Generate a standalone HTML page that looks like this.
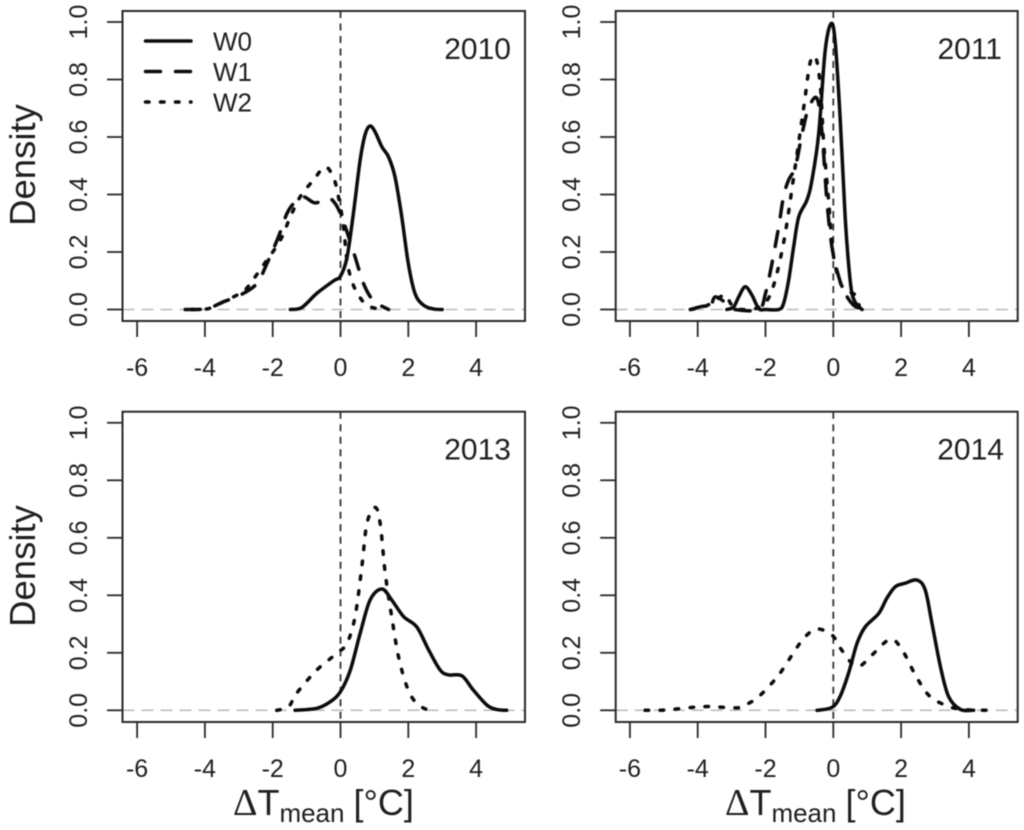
<!DOCTYPE html>
<html lang="en">
<head>
<meta charset="utf-8">
<title>Density of temperature change by year</title>
<style>
html,body{margin:0;padding:0;background:#fff;width:1024px;height:830px;overflow:hidden}
svg{display:block;filter:blur(0.45px)}
text{font-family:"Liberation Sans",sans-serif;fill:#1f1f1f}
</style>
</head>
<body>
<svg id="chart" xmlns="http://www.w3.org/2000/svg" width="1024" height="830" viewBox="0 0 1024 830"></svg>
<script>
const xTicks = [-6, -4, -2, 0, 2, 4];
const xTickLabels = ['-6', '-4', '-2', '0', '2', '4'];
const yTicks = [0, 0.2, 0.4, 0.6, 0.8, 1.0];
const yTickLabels = ['0.0', '0.2', '0.4', '0.6', '0.8', '1.0'];
const legendLabels = ['W0', 'W1', 'W2'];

const w0x2010 = [-1.48,-1.14,-0.7,-0.2,0,0.19,0.38,0.58,0.73,0.87,1.02,1.22,1.42,1.61,1.81,2.0,2.2,2.45,2.74,3.0];
const w0y2010 = [0,0.007,0.056,0.10,0.116,0.18,0.334,0.52,0.61,0.638,0.618,0.566,0.53,0.46,0.32,0.16,0.055,0.015,0.002,0];
const w1x2010 = [-4.58,-3.94,-3.45,-2.96,-2.47,-2.17,-1.83,-1.58,-1.34,-1.09,-0.75,-0.35,-0.16,0,0.09,0.24,0.43,0.68,0.92,1.17,1.42];
const w1y2010 = [0,0.003,0.027,0.05,0.09,0.16,0.253,0.334,0.374,0.392,0.371,0.386,0.369,0.334,0.305,0.253,0.183,0.09,0.038,0.015,0];
const w2x2010 = [-4.4,-3.9,-3.4,-2.9,-2.76,-2.57,-2.17,-1.78,-1.48,-1.19,-0.8,-0.45,-0.2,-0.06,0.09,0.19,0.33,0.53,0.78,1.17];
const w2y2010 = [0,0.003,0.03,0.06,0.075,0.105,0.172,0.24,0.322,0.392,0.45,0.496,0.456,0.392,0.288,0.172,0.10,0.05,0.015,0];

const w0x2011 = [-3.14,-2.94,-2.79,-2.6,-2.4,-2.2,-2,-1.61,-1.47,-1.32,-1.17,-1.02,-0.78,-0.63,-0.43,-0.24,-0.06,0.06,0.2,0.35,0.45,0.55,0.7,0.85];
const w0y2011 = [0,0.009,0.044,0.079,0.05,0.003,0,0,0.02,0.10,0.218,0.322,0.38,0.45,0.612,0.90,0.995,0.925,0.67,0.322,0.16,0.056,0.015,0];
const w1x2011 = [-4.22,-3.78,-3.63,-3.48,-3.09,-2.9,-2.2,-2,-1.81,-1.61,-1.47,-1.32,-1.12,-0.92,-0.73,-0.48,-0.33,-0.19,-0.04,0.16,0.35,0.6,0.85];
const w1y2011 = [0,0.012,0,0.044,0.015,0,0,0.056,0.16,0.288,0.392,0.45,0.496,0.612,0.70,0.734,0.612,0.38,0.218,0.114,0.056,0.015,0];
const w2x2011 = [-4.2,-3.8,-3.5,-3.19,-2.99,-2.7,-2.15,-1.81,-1.47,-1.17,-0.87,-0.68,-0.51,-0.38,-0.29,-0.14,0.01,0.26,0.65,0.8,1];
const w2y2011 = [0,0.01,0.03,0.05,0.015,0,0.01,0.067,0.23,0.46,0.705,0.86,0.873,0.775,0.59,0.38,0.183,0.08,0.05,0.003,0];

const w0x2013 = [-1.34,-0.7,-0.3,0,0.29,0.58,0.875,1.22,1.51,1.86,2.25,2.6,2.94,3.19,3.58,3.92,4.32,4.6,4.9];
const w0y2013 = [0,0.007,0.03,0.065,0.14,0.268,0.384,0.422,0.384,0.326,0.29,0.21,0.14,0.123,0.12,0.07,0.018,0.003,0];
const w2x2013 = [-1.88,-1.53,-1.29,-0.7,-0.11,0.19,0.43,0.63,0.78,1.02,1.17,1.32,1.51,1.71,1.96,2.2,2.5,2.79];
const w2y2013 = [0,0.013,0.06,0.14,0.198,0.233,0.326,0.5,0.65,0.706,0.65,0.476,0.326,0.187,0.082,0.03,0.005,0];

const w0x2014 = [-0.48,-0.04,0.2,0.45,0.7,0.94,1.34,1.58,1.83,2.12,2.47,2.71,2.91,3.16,3.4,3.75,4.14];
const w0y2014 = [0,0.01,0.048,0.129,0.233,0.29,0.337,0.39,0.43,0.442,0.453,0.419,0.303,0.152,0.048,0.003,0];
const w2x2014 = [-5.55,-4.96,-4.17,-3.68,-2.79,-2.5,-2.15,-1.61,-1.12,-0.83,-0.48,-0.04,0.21,0.55,0.8,1.14,1.68,2.03,2.42,2.81,3.3,3.8,4.63];
const w2y2014 = [0,0.001,0.01,0.013,0.009,0.024,0.053,0.123,0.21,0.256,0.283,0.262,0.216,0.163,0.155,0.192,0.247,0.21,0.123,0.053,0.018,0.003,0];

const NS = 'http://www.w3.org/2000/svg';
const root = document.getElementById('chart');
const pxPerX = 33.9;
const pxPerY = 287.5;
const dashStyles = { w0: 'none', w1: '15 15', w2: '3.5 11.5' };

function svgEl(tag, parent, attrs) {
  const node = document.createElementNS(NS, tag);
  for (const k in attrs) node.setAttribute(k, attrs[k]);
  parent.appendChild(node);
  return node;
}

function smoothPath(xs, ys, sx, sy) {
  const p = xs.map((v, i) => [sx(v), sy(ys[i])]);
  let d = 'M' + p[0][0].toFixed(2) + ' ' + p[0][1].toFixed(2);
  for (let i = 0; i < p.length - 1; i++) {
    const a = p[Math.max(i - 1, 0)], b = p[i], c = p[i + 1], e = p[Math.min(i + 2, p.length - 1)];
    const c1x = b[0] + (c[0] - a[0]) / 6, c1y = b[1] + (c[1] - a[1]) / 6;
    const c2x = c[0] - (e[0] - b[0]) / 6, c2y = c[1] - (e[1] - b[1]) / 6;
    d += 'C' + c1x.toFixed(2) + ' ' + c1y.toFixed(2) + ' ' + c2x.toFixed(2) + ' ' + c2y.toFixed(2) + ' ' + c[0].toFixed(2) + ' ' + c[1].toFixed(2);
  }
  return d;
}

function drawPanel(cfg) {
  const sx = v => cfg.x0 + v * pxPerX;
  const sy = v => cfg.y0 - v * pxPerY;

  const g = svgEl('g', root, {});
  
  

  const zero = svgEl('line', g, { x1: cfg.left, x2: cfg.right, y1: sy(0), y2: sy(0), stroke: '#b9b9b9', 'stroke-width': 1.5, 'stroke-dasharray': '12 7' });
  
  

  const vert = svgEl('line', g, { x1: sx(0), x2: sx(0), y1: cfg.top, y2: cfg.bottom, stroke: '#333', 'stroke-width': 1.8, 'stroke-dasharray': '7 5.5' });
  
  

  cfg.series.forEach(s => {
    const line = svgEl('path', g, { d: smoothPath(s.x, s.y, sx, sy), fill: 'none', stroke: '#0c0c0c', 'stroke-width': 3.5, 'stroke-linecap': 'round', 'stroke-linejoin': 'round', 'stroke-dasharray': dashStyles[s.key] });
    
    
  });

  const box = svgEl('rect', g, { x: cfg.left, y: cfg.top, width: cfg.right - cfg.left, height: cfg.bottom - cfg.top, fill: 'none', stroke: '#2a2a2a', 'stroke-width': 2 });
  
  

  xTicks.forEach((t, i) => {
    const tick = svgEl('line', g, { x1: sx(t), x2: sx(t), y1: cfg.bottom, y2: cfg.bottom + 16, stroke: '#2a2a2a', 'stroke-width': 1.8 });
    
    
    const lab = svgEl('text', g, { x: sx(t), y: cfg.bottom + 55, 'text-anchor': 'middle', 'font-size': 25 });
    lab.textContent = xTickLabels[i];
    
    
  });

  yTicks.forEach((t, i) => {
    const tick = svgEl('line', g, { x1: cfg.left - 15.5, x2: cfg.left, y1: sy(t), y2: sy(t), stroke: '#2a2a2a', 'stroke-width': 1.8 });
    
    
    const tx = cfg.left - 35.5;
    const lab = svgEl('text', g, { x: tx, y: sy(t), 'text-anchor': 'middle', 'font-size': 25, transform: 'rotate(-90 ' + tx + ' ' + sy(t) + ')' });
    lab.textContent = yTickLabels[i];
    
    
  });

  const yearLabel = svgEl('text', g, { x: cfg.yearX, y: cfg.top + 48, 'text-anchor': 'end', 'font-size': 30 });
  yearLabel.textContent = cfg.year;
  
  
}

const panelConfigs = [
  { year: '2010', left: 122.5, right: 525, top: 11, bottom: 321, x0: 340.5, y0: 309.5, yearX: 511,
    series: [{ key: 'w1', x: w1x2010, y: w1y2010 }, { key: 'w2', x: w2x2010, y: w2y2010 }, { key: 'w0', x: w0x2010, y: w0y2010 }] },
  { year: '2011', left: 615.7, right: 1017.7, top: 11, bottom: 321, x0: 833.3, y0: 309.5, yearX: 1002,
    series: [{ key: 'w1', x: w1x2011, y: w1y2011 }, { key: 'w2', x: w2x2011, y: w2y2011 }, { key: 'w0', x: w0x2011, y: w0y2011 }] },
  { year: '2013', left: 122.5, right: 525, top: 411.7, bottom: 722, x0: 340.5, y0: 710.3, yearX: 511,
    series: [{ key: 'w2', x: w2x2013, y: w2y2013 }, { key: 'w0', x: w0x2013, y: w0y2013 }] },
  { year: '2014', left: 615.7, right: 1017.7, top: 411.7, bottom: 722, x0: 833.3, y0: 710.3, yearX: 1004,
    series: [{ key: 'w2', x: w2x2014, y: w2y2014 }, { key: 'w0', x: w0x2014, y: w0y2014 }] }
];
panelConfigs.forEach(drawPanel);

[165, 566].forEach(cy => {
  const yt = svgEl('text', root, { x: 35, y: cy, 'text-anchor': 'middle', 'font-size': 36.5, transform: 'rotate(-90 35 ' + cy + ')' });
  yt.textContent = 'Density';
  
  
});

const legend = svgEl('g', root, {});


['w0', 'w1', 'w2'].forEach((k, i) => {
  const ly = 41 + i * 30.5;
  const key = svgEl('line', legend, { x1: 145.5, x2: 191, y1: ly, y2: ly, stroke: '#0c0c0c', 'stroke-width': 3.5, 'stroke-linecap': 'round', 'stroke-dasharray': dashStyles[k] });
  
  
  const txt = svgEl('text', legend, { x: 213, y: ly + 9.5, 'font-size': 26 });
  txt.textContent = legendLabels[i];
  
  
});

[233, 725].forEach(tx => {
  const t = svgEl('text', root, { x: tx, y: 815, 'font-size': 36 });
  
  
  const delta = svgEl('tspan', t, { 'font-family': '"Liberation Serif",serif', 'font-size': 38 });
  delta.textContent = 'Δ';
  
  
  const tee = svgEl('tspan', t, {});
  tee.textContent = 'T';
  
  
  const sub = svgEl('tspan', t, { 'font-size': 26, dy: 7 });
  sub.textContent = 'mean';
  
  
  const unit = svgEl('tspan', t, { dy: -7, dx: 9 });
  unit.textContent = '[°C]';
  
  
});
</script>
</body>
</html>
